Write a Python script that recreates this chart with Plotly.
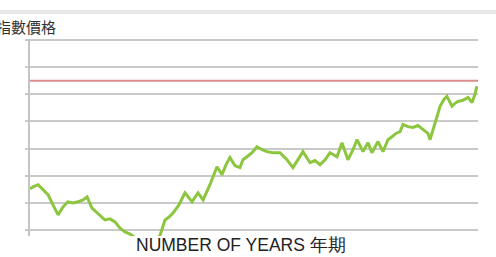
import plotly.graph_objects as go

# Data (years, index level in gridline units)
years = [0, 0.2, 0.54, 0.87, 1.21, 1.54, 1.88, 2.21, 2.54, 2.88, 3.21, 3.55, 3.82, 4.15,
         4.55, 5.02, 5.36, 5.69, 6.03, 6.36, 6.70, 7.03, 7.37, 7.70, 8.04, 8.37, 8.71,
         9.04, 9.31, 9.58, 9.98, 10.38, 10.85, 11.25, 11.59, 12.05, 12.52, 12.86, 13.13,
         13.39, 13.73, 14.06, 14.26, 14.53, 14.87, 15.20, 15.54, 15.87, 16.27, 16.74,
         17.21, 17.61, 17.95, 18.28, 18.75, 19.09, 19.42, 19.76, 20.09, 20.56, 20.89,
         21.29, 21.63, 21.90, 22.30, 22.63, 22.90, 23.30, 23.64, 23.97, 24.24, 24.51,
         24.78, 24.98, 25.31, 25.65, 25.98, 26.32, 26.65, 26.79, 27.12, 27.46, 27.72,
         27.92, 28.26, 28.46, 28.66, 28.99, 29.33, 29.60, 29.80, 29.93]
index_level = [1.52, 1.59, 1.67, 1.48, 1.30, 0.93, 0.56, 0.85, 1.04, 1.00, 1.04, 1.11, 1.22,
               0.81, 0.59, 0.37, 0.41, 0.30, 0.07, -0.07, -0.15, -0.26, -0.37, -0.52, -0.56,
               -0.37, -0.19, 0.37, 0.48, 0.63, 0.93, 1.37, 1.04, 1.37, 1.11, 1.67, 2.33,
               2.04, 2.41, 2.67, 2.37, 2.30, 2.59, 2.70, 2.85, 3.07, 2.96, 2.89, 2.85, 2.85,
               2.59, 2.30, 2.59, 2.89, 2.48, 2.56, 2.41, 2.59, 2.85, 2.70, 3.22, 2.59, 2.96,
               3.33, 2.89, 3.22, 2.85, 3.26, 2.89, 3.33, 3.44, 3.56, 3.63, 3.89, 3.81, 3.78,
               3.85, 3.70, 3.56, 3.33, 3.96, 4.56, 4.81, 4.93, 4.56, 4.67, 4.74, 4.78, 4.89,
               4.70, 5.00, 5.30]
reference_level = 5.5
grid_ticks = [0, 1, 2, 3, 4, 5, 6, 7]
y_title = "指數價格"
x_title = "NUMBER OF YEARS 年期"

fig = go.Figure()
fig.add_trace(go.Scatter(x=years, y=index_level, mode="lines",
                         line=dict(color="#8cc63f", width=3), hoverinfo="skip"))

fig.add_shape(type="line", xref="paper", x0=0, x1=1, yref="y",
              y0=reference_level, y1=reference_level,
              line=dict(color="#dc8e8e", width=2))
fig.add_shape(type="rect", xref="paper", yref="paper", x0=-0.07, x1=1.05,
              y0=1.127, y1=1.147, fillcolor="#e6e6e6", line=dict(width=0), layer="below")

fig.add_annotation(text=y_title, xref="paper", yref="paper", x=0.062, y=1.063,
                   xanchor="right", yanchor="middle", showarrow=False,
                   font=dict(family="Noto Sans CJK TC", size=15, color="#333333"))
fig.add_annotation(text=x_title, xref="paper", yref="paper", x=0.472, y=-0.106,
                   xanchor="center", yanchor="bottom", showarrow=False,
                   font=dict(family="Liberation Sans, Arial", size=17.5, color="#222222"))

fig.update_layout(
    width=496, height=257,
    margin=dict(l=30, r=18, t=39, b=21, autoexpand=False),
    paper_bgcolor="white", plot_bgcolor="white",
    showlegend=False,
    xaxis=dict(range=[0, 30], showgrid=False, showticklabels=False, ticks="",
               zeroline=False, showline=False),
    yaxis=dict(range=[-0.22, 7.04], tickvals=grid_ticks, showticklabels=False,
               showgrid=True, gridcolor="#c9c9c9", gridwidth=2,
               ticks="outside", ticklen=3, tickcolor="#c9c9c9", tickwidth=2,
               zeroline=False, showline=True, linecolor="#c4c4c4", linewidth=2),
)

fig.write_html("out.html", config={"displayModeBar": False},
               post_script="document.body.style.margin='0px';document.body.style.overflow='hidden';")
